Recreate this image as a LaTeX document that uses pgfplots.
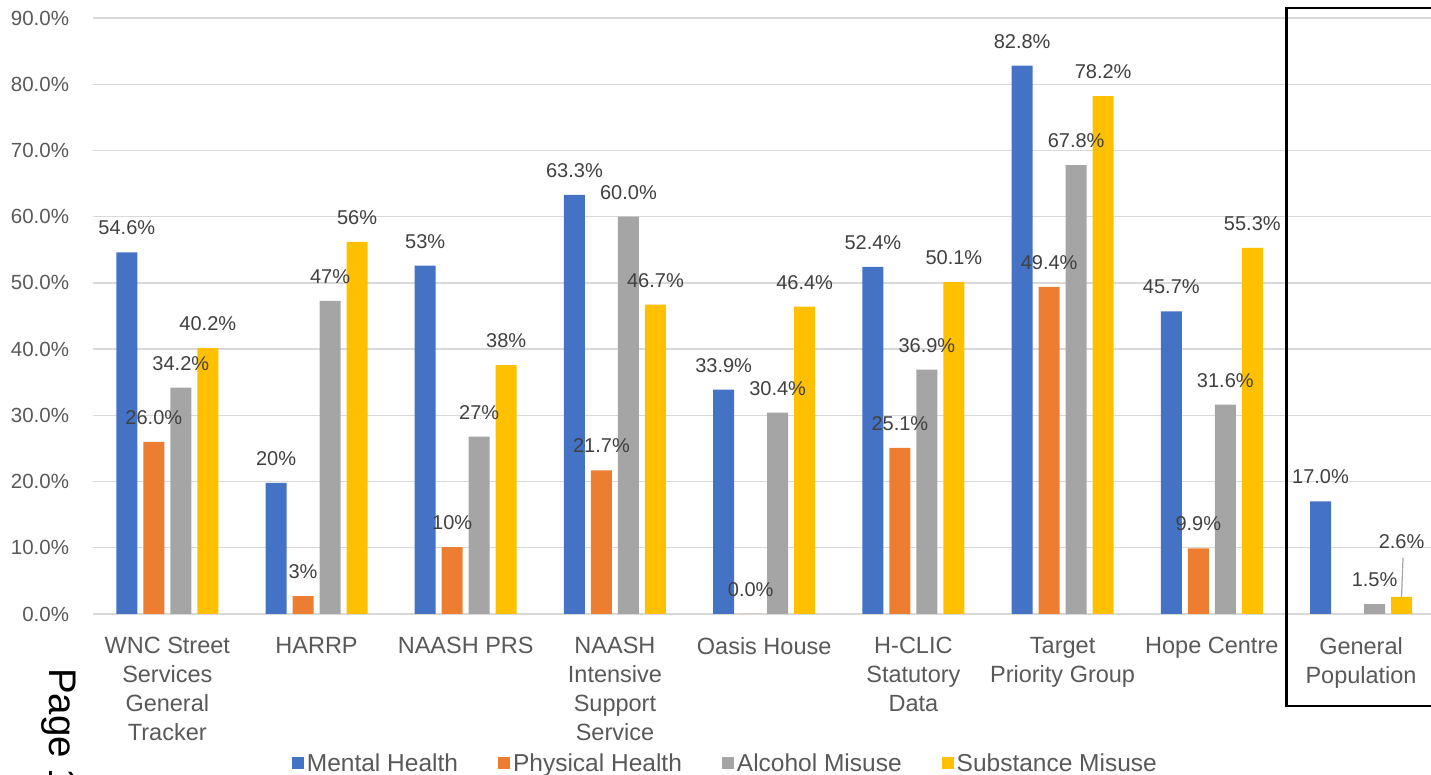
\documentclass[border=0pt]{standalone}
\usepackage{fontspec}
\setmainfont{Liberation Sans}
\usepackage{pgfplots}
\usepackage{pgfplotstable}
\pgfplotsset{compat=1.18}

\definecolor{cblue}{HTML}{4472C4}
\definecolor{corange}{HTML}{ED7D31}
\definecolor{cgray}{HTML}{A5A5A5}
\definecolor{cyellow}{HTML}{FFC000}
\definecolor{gridgray}{HTML}{D9D9D9}
\definecolor{tickgray}{HTML}{595959}
\definecolor{labgray}{HTML}{404040}

\pgfplotstableread{
x y lab
0 54.6 54.6
1 19.8 20
2 52.6 53
3 63.3 63.3
4 33.9 33.9
5 52.4 52.4
6 82.8 82.8
7 45.7 45.7
8 17.0 17.0
}\mh
\pgfplotstableread{
x y lab
0 26.0 26.0
1 2.7 3
2 10.1 10
3 21.7 21.7
4 0.0 0.0
5 25.1 25.1
6 49.4 49.4
7 9.9 9.9
}\ph
\pgfplotstableread{
x y lab
0 34.2 34.2
1 47.3 47
2 26.8 27
3 60.0 60.0
4 30.4 30.4
5 36.9 36.9
6 67.8 67.8
7 31.6 31.6
8 1.5 1.5
}\al
\pgfplotstableread{
x y lab dy
0 40.2 40.2 0
1 56.2 56 0
2 37.6 38 0
3 46.7 46.7 0
4 46.4 46.4 0
5 50.1 50.1 0
6 78.2 78.2 0
7 55.3 55.3 0
8 2.6 2.6 30.5
}\su

\begin{document}
\begin{tikzpicture}
\begin{axis}[
  at={(0pt,0pt)}, anchor=south west,
  scale only axis, width=1343pt, height=596pt,
  xmin=-0.5, xmax=8.5, ymin=0, ymax=90,
  ybar=6pt, bar width=21pt,
  axis line style={draw=none},
  tick style={draw=none},
  ymajorgrids, grid style={draw=gridgray, line width=1.3pt},
  ytick={0,10,...,90},
  yticklabel={\pgfmathprintnumber[fixed,fixed zerofill,precision=1,assume math mode=true]{\tick}\%},
  yticklabel style={font=\fontsize{20.5}{24}\selectfont, text=tickgray, inner sep=0pt, xshift=-23.5pt},
  xtick={0,...,8},
  xticklabels={{WNC Street\\Services\\General\\Tracker},{HARRP},{NAASH PRS},{NAASH\\Intensive\\Support\\Service},{Oasis House},{H-CLIC\\Statutory\\Data},{Target\\Priority Group},{Hope Centre},{General\\Population}},
  xticklabel style={font=\fontsize{23.5}{29}\selectfont, text=tickgray, align=center, anchor=north, inner sep=0pt, yshift=-19pt},
  clip=false,
  point meta=explicit symbolic,
  nodes near coords={\pgfplotspointmeta\%},
  every node near coord/.append style={font=\fontsize{20}{24}\selectfont, text=labgray, anchor=base, inner sep=0pt, yshift=17.5pt},
  legend columns=4,
  legend style={draw=none, fill=none, at={(0.4715,-0.25)}, anchor=center,
    font=\fontsize{24.5}{28}\selectfont, text=tickgray,
    /tikz/every even column/.append style={column sep=37pt},
    nodes={inner sep=3pt}},
  legend image code/.code={\fill[#1] (0pt,-6pt) rectangle (12pt,6pt);},
]
\addplot[fill=cblue, draw=none] table[x=x, y=y, meta=lab] {\mh};
\addlegendentry{Mental Health}
\addplot[fill=corange, draw=none] table[x=x, y=y, meta=lab] {\ph};
\addlegendentry{Physical Health}
\addplot[fill=cgray, draw=none] table[x=x, y=y, meta=lab] {\al};
\addlegendentry{Alcohol Misuse}
\addplot[fill=cyellow, draw=none,
  visualization depends on={\thisrow{dy} \as \dy},
  every node near coord/.append style={yshift=\dy pt}] table[x=x, y=y, meta=lab] {\su};
\addlegendentry{Substance Misuse}
\draw[cgray, line width=1.2pt] ([xshift=40.5pt]axis cs:8,2.6) -- ([xshift=42pt]axis cs:8,8.5);
\end{axis}
\draw[black, line width=2.5pt] (1194pt,-92pt) rectangle (1360pt,606pt);
\node[rotate=-90, anchor=base west, inner sep=0pt, font=\fontsize{38.5}{40}\selectfont] at (-42.7pt,-54pt) {Page 1};
\pgfresetboundingbox
\useasboundingbox (-92.7pt,-161pt) rectangle (1338.3pt,614pt);
\end{tikzpicture}
\end{document}
